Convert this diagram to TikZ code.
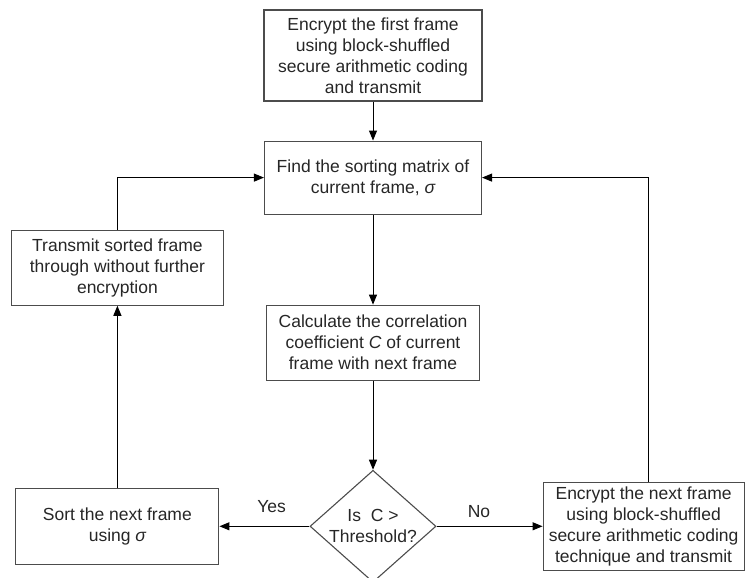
\documentclass[tikz,border=0pt]{standalone}
\usepackage{fontspec}
\setmainfont{Liberation Sans}
\usetikzlibrary{positioning,shapes.geometric,arrows.meta}

\begin{document}
\begin{tikzpicture}[x=1pt,y=-1pt,
box/.style={draw=black!70,line width=1.1pt,align=center,inner sep=0pt,font=\fontsize{17.5}{21}\selectfont,text=black!85},
test/.style={box,diamond,aspect=1.125,minimum width=126pt,minimum height=112pt,inner sep=-4pt},
flow/.style={-{Triangle[length=10pt,width=8pt]},line width=1pt},
lbl/.style={font=\fontsize{17.5}{21}\selectfont,text=black!85}]
\useasboundingbox (0,0) rectangle (745,578);
\node[box,minimum width=218pt,minimum height=91pt] (first) at (373,55.5) {Encrypt the first frame\\using block-shuffled\\secure arithmetic coding\\and transmit};
\node[box,minimum width=217pt,minimum height=73pt,below=39pt of first] (sortmat) {Find the sorting matrix of\\current frame, {\itshape σ}};
\node[box,minimum width=213pt,minimum height=75pt,below=90pt of sortmat] (corr) {Calculate the correlation\\coefficient {\itshape C} of current\\frame with next frame};
\node[test,below=89pt of corr] (thresh) {Is~ C >\\Threshold?};
\node[box,minimum width=203pt,minimum height=76pt,left=90pt of thresh] (sortnext) {Sort the next frame\\using {\itshape σ}};
\node[box,minimum width=201pt,minimum height=88pt,right=106pt of thresh] (encnext) {Encrypt the next frame\\using block-shuffled\\secure arithmetic coding\\technique and transmit};
\node[box,minimum width=212pt,minimum height=75pt,above=182pt of sortnext] (plain) {Transmit sorted frame\\through without further\\encryption};
\draw[flow] (first)--(sortmat); \draw[flow] (sortmat)--(corr); \draw[flow] (corr)--(thresh);
\draw[flow] (thresh.west)--node[lbl,pos=0.42,above=10pt]{Yes}(sortnext.east);
\draw[flow] (thresh.east)--node[lbl,pos=0.4,above=5pt]{No}(encnext.west);
\draw[flow] (sortnext)--(plain);
\draw[flow] (plain.north)|-(sortmat.west);
\draw[flow] ([xshift=5pt]encnext.north)|-(sortmat.east);
\end{tikzpicture}
\end{document}
